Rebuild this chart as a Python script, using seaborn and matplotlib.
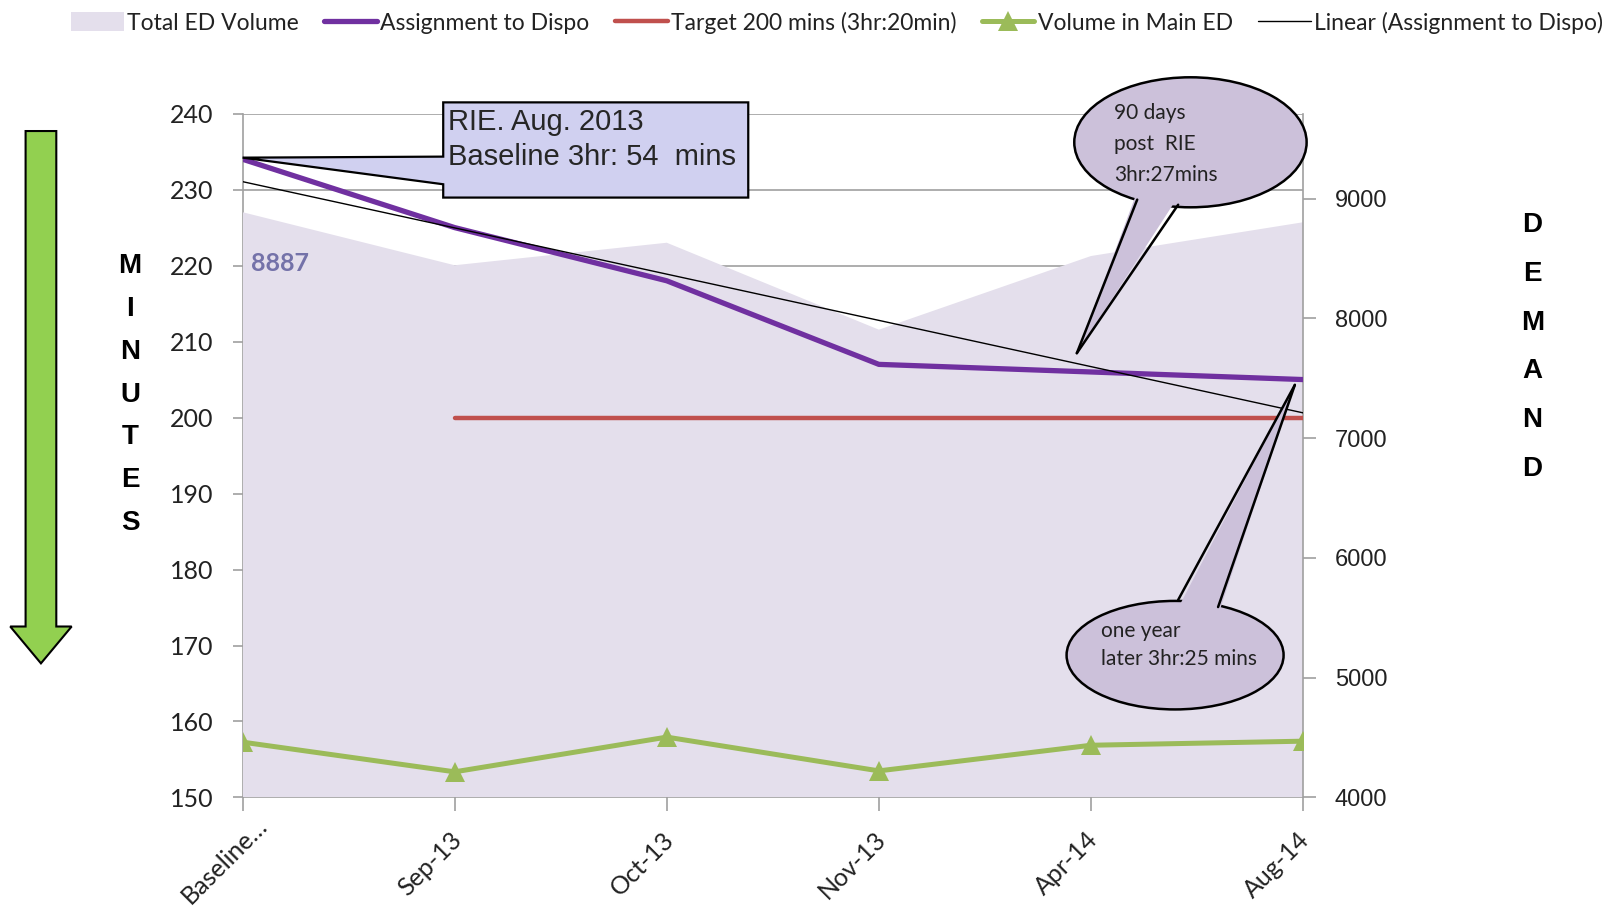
import numpy as np
import matplotlib
matplotlib.use("Agg")
import matplotlib.pyplot as plt
import matplotlib.transforms as mtransforms
import seaborn as sns
from matplotlib.patches import Polygon, Ellipse, Patch
from matplotlib.lines import Line2D

# ---------------- data ----------------
categories = ["Baseline…", "Sep-13", "Oct-13", "Nov-13", "Apr-14", "Aug-14"]
total_ed_volume = [8887, 8444, 8632, 7906, 8521, 8803]      # right axis (area)
assignment_to_dispo = [234, 225, 218, 207, 206, 205]         # left axis (minutes)
target_minutes = [np.nan, 200, 200, 200, 200, 200]           # left axis
volume_main_ed = [4462, 4214, 4504, 4222, 4436, 4470]        # right axis
left_ticks = [150, 160, 170, 180, 190, 200, 210, 220, 230, 240]
right_ticks = [4000, 5000, 6000, 7000, 8000, 9000]

# ---------------- style ----------------
sns.set_theme(style="white")
CAL = ["Lato", "DejaVu Sans"]
ARIAL = ["Liberation Sans", "DejaVu Sans"]
plt.rcParams["font.family"] = CAL

C_AREA = "#E4DFEC"
C_PURPLE = "#7030A0"
C_RED = "#C0504D"
C_GREEN = "#9BBB59"
C_AXIS = "#A0A0A0"
C_TXT = "#222222"

W, H = 1568.0, 886.0  # reference (displayed) coords helper
def F(x, y):
    return (x / W, 1 - y / H)

fig = plt.figure(figsize=(16.05, 9.07), dpi=100)
pos = [237 / W, 1 - 779 / H, (1273 - 237) / W, (779 - 111) / H]

ax = fig.add_axes(pos)          # left axis, gridlines
ax2 = ax.twinx()                # right axis, area + green
ax3 = fig.add_axes(pos, sharex=ax, sharey=ax)  # overlay for left-axis lines
ax.set_zorder(1)
ax2.set_zorder(2)
ax3.set_zorder(3)
ax2.patch.set_visible(False)
ax3.patch.set_visible(False)
ax3.axis("off")

x = np.arange(len(categories))

# area
ax2.fill_between(x, 0, total_ed_volume, color=C_AREA, lw=0, zorder=1)
# green line
sns.lineplot(x=x, y=volume_main_ed, ax=ax2, color=C_GREEN, lw=3.6,
             marker="^", markersize=15, markeredgewidth=0, zorder=3)
ax2.set_ylim(4000, 9710)
ax2.set_yticks(right_ticks)
ax2.set_yticklabels([str(t) for t in right_ticks], family=ARIAL, fontsize=17, color=C_TXT)

# left-axis lines
sns.lineplot(x=x, y=assignment_to_dispo, ax=ax3, color=C_PURPLE, lw=3.8, zorder=4)
sns.lineplot(x=x, y=target_minutes, ax=ax3, color=C_RED, lw=3.2, zorder=3)
coef = np.polyfit(x, assignment_to_dispo, 1)
sns.lineplot(x=x, y=np.polyval(coef, x), ax=ax3, color="black", lw=1.0, zorder=5)

ax.set_ylim(150, 240)
ax.set_xlim(0, len(categories) - 1)
ax.set_yticks(left_ticks)
ax.set_yticklabels([str(t) for t in left_ticks], fontsize=18, color=C_TXT)
ax.set_xticks(x)
ax.set_xticklabels([""] * len(categories))

# rotated category labels placed via blended (data x, axes y) transform
base = mtransforms.blended_transform_factory(ax.transData, ax.transAxes)
for i, cat in enumerate(categories):
    dx, dy = (13, -16) if i == 0 else (-5, -30)
    tr = base + mtransforms.ScaledTranslation(dx / 100, dy / 100, fig.dpi_scale_trans)
    ax.text(x[i], 0, cat, transform=tr, rotation=45, ha="right", va="top",
            rotation_mode="anchor", fontsize=18, color=C_TXT, clip_on=False)

ax.grid(axis="y", color=C_AXIS, lw=1.2)
ax.grid(axis="x", visible=False)

for a in (ax, ax2):
    for s in a.spines.values():
        s.set_visible(False)
ax.spines["left"].set_visible(True)
ax.spines["bottom"].set_visible(True)
ax2.spines["right"].set_visible(True)
for s in (ax.spines["left"], ax.spines["bottom"], ax2.spines["right"]):
    s.set_color(C_AXIS)
    s.set_linewidth(1.2)

ax.tick_params(axis="y", which="both", left=True, length=7, width=1.2, color=C_AXIS, pad=14)
ax.tick_params(axis="x", bottom=True, length=10, width=1.2, color=C_AXIS, pad=18)
ax2.tick_params(axis="y", right=True, length=9, width=1.2, color=C_AXIS, pad=14)
ax2.set_ylabel("")
ax.set_ylabel("")

# data label
ax2.annotate(f"{total_ed_volume[0]}", xy=(x[0], total_ed_volume[0]), xytext=(6, -37),
             textcoords="offset points", fontsize=18, fontweight="bold",
             color="#7472A9", ha="left", va="center", zorder=6)

# ---------------- legend ----------------
handles = [
    Patch(facecolor=C_AREA, edgecolor="none"),
    Line2D([], [], color=C_PURPLE, lw=3.8),
    Line2D([], [], color=C_RED, lw=3.2),
    Line2D([], [], color=C_GREEN, lw=3.6, marker="^", markersize=15, markeredgewidth=0),
    Line2D([], [], color="black", lw=1.0),
]
labels = ["Total ED Volume", "Assignment to Dispo", "Target 200 mins (3hr:20min)",
          "Volume in Main ED", "Linear (Assignment to Dispo)"]
fig.legend(handles, labels, loc="center", bbox_to_anchor=(818 / W, 1 - 22 / H), ncol=5,
           frameon=False, fontsize=16.5, handlelength=2.3, handletextpad=0.15,
           columnspacing=1.1, handleheight=0.9, borderaxespad=0, borderpad=0,
           labelcolor=C_TXT)

# ---------------- annotations ----------------
# rectangle callout
box = [F(433, 100), F(731, 100), F(731, 193), F(433, 193), F(433, 180), F(237, 154), F(433, 153)]
fig.add_artist(Polygon(box, closed=True, transform=fig.transFigure, facecolor="#D0D0F0",
                       edgecolor="black", lw=1.6, zorder=10))
fig.text(*F(438, 119), "RIE. Aug. 2013", family=ARIAL,
         fontsize=21, va="center", ha="left", zorder=11)
fig.text(*F(438, 153), "Baseline 3hr: 54  mins", family=ARIAL,
         fontsize=21, va="center", ha="left", zorder=11)

C_BUBBLE = "#CCC1DA"

def bubble(cx, cy, w, h, b1, b2, tip, lines, tx, ty0, dy):
    e = Ellipse(F(cx, cy), w / W, h / H, transform=fig.transFigure,
                facecolor=C_BUBBLE, edgecolor="black", lw=1.8, zorder=10)
    fig.add_artist(e)
    inward = 1 if b1[1] > cy else -1
    b1i = (b1[0], b1[1] - inward * 8)
    b2i = (b2[0], b2[1] - inward * 8)
    fig.add_artist(Polygon([F(*b1i), F(*tip), F(*b2i)], closed=True, transform=fig.transFigure,
                           facecolor=C_BUBBLE, edgecolor="none", zorder=11))
    for b in (b1, b2):
        p1, p2 = F(*b), F(*tip)
        fig.add_artist(Line2D([p1[0], p2[0]], [p1[1], p2[1]], transform=fig.transFigure,
                              color="black", lw=1.8, zorder=12))
    for i, t in enumerate(lines):
        fig.text(*F(tx, ty0 + i * dy), t, fontsize=15, va="center", ha="left",
                 color=C_TXT, zorder=13)

bubble(1163, 139, 227, 127, (1111, 195), (1151, 200), (1052, 345),
       ["90 days", "post  RIE", "3hr:27mins"], 1088, 110, 30.5)
bubble(1148, 640, 212, 106, (1151, 586), (1190, 593), (1265, 376),
       ["one year", "later 3hr:25 mins"], 1076, 616, 28)

# green down arrow
arrow = [F(25, 128), F(55, 128), F(55, 612), F(70, 612), F(40, 648), F(10, 612), F(25, 612)]
fig.add_artist(Polygon(arrow, closed=True, transform=fig.transFigure, facecolor="#92D050",
                       edgecolor="black", lw=1.5, zorder=10))

# vertical letter labels
for i, ch in enumerate("MINUTES"):
    fig.text(*F(127, 260 + i * 41.8), ch, fontsize=20, fontweight="bold", ha="center",
             va="center", family=ARIAL, color="black")
for i, ch in enumerate("DEMAND"):
    fig.text(*F(1497, 220 + i * 47.6), ch, fontsize=20, fontweight="bold", ha="center",
             va="center", family=ARIAL, color="black")

fig.savefig("out.png", dpi=100)
